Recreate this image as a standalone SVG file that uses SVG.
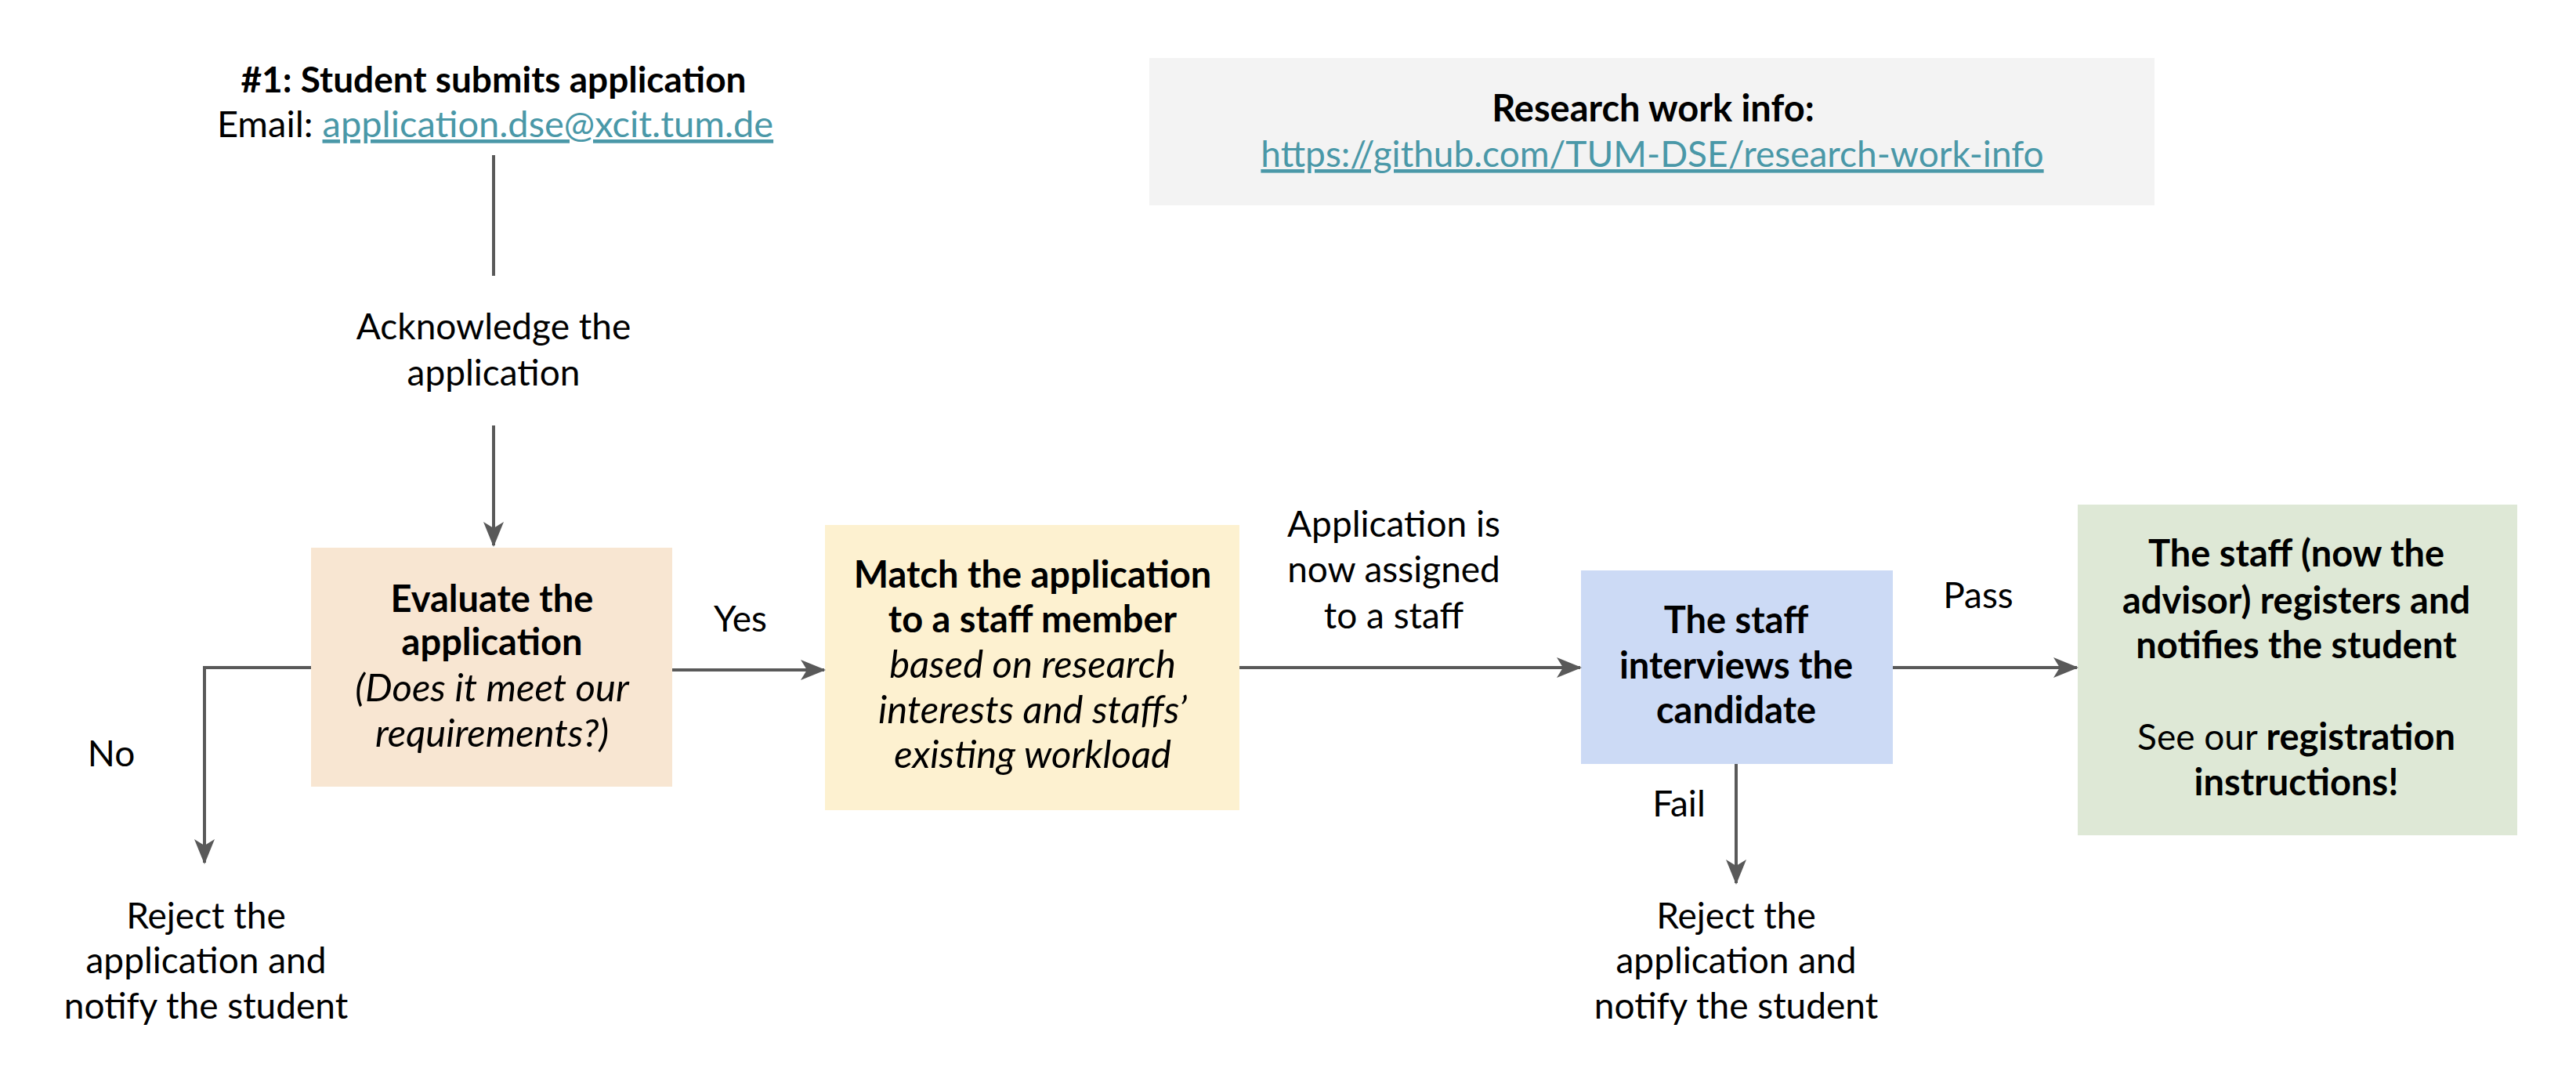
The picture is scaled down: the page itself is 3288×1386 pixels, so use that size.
<svg xmlns="http://www.w3.org/2000/svg" width="3288" height="1386" viewBox="0 0 3288 1386">
<defs>
<style>
text{font-family:Lato,"Liberation Sans",sans-serif;font-size:46px;fill:#000;text-anchor:middle}
.b{font-weight:bold;font-size:47px}
.i{font-style:italic;font-size:49px}
.link{fill:#4a98a8;text-decoration:underline}
.conn{stroke:#595959;stroke-width:4;fill:none}
</style>
<marker id="ah" viewBox="0 0 32 26" refX="30" refY="13" markerWidth="32" markerHeight="26" markerUnits="userSpaceOnUse" orient="auto">
<path d="M0,0 L32,13 L0,26 L8,13 Z" fill="#595959"/>
</marker>
</defs>
<rect width="3288" height="1386" fill="#fff"/>

<g id="start">
<text class="b" x="630" y="118" style="font-size:46px">#1: Student submits application</text>
<text x="632" y="175" style="font-size:47px">Email: <tspan class="link">application.dse@xcit.tum.de</tspan></text>
</g>

<g id="info">
<rect x="1467" y="74" width="1283" height="188" fill="#f3f3f3"/>
<text class="b" x="2110" y="155">Research work info:</text>
<text class="link" x="2109" y="213">https://github.com/TUM-DSE/research-work-info</text>
</g>

<g id="acknowledge">
<text x="630" y="433">Acknowledge the</text>
<text x="630" y="492">application</text>
</g>

<g id="evaluate">
<rect x="397" y="699" width="461" height="305" fill="#f8e6d2"/>
<text class="b" x="628" y="781">Evaluate the</text>
<text class="b" x="628" y="836">application</text>
<text class="i" x="628" y="895">(Does it meet our</text>
<text class="i" x="628" y="953">requirements?)</text>
</g>

<g id="reject1">
<text x="263" y="1185">Reject the</text>
<text x="263" y="1242">application and</text>
<text x="263" y="1300">notify the student</text>
</g>

<g id="match">
<rect x="1053" y="670" width="529" height="364" fill="#fdf1d0"/>
<text class="b" x="1318" y="750">Match the application</text>
<text class="b" x="1318" y="807">to a staff member</text>
<text class="i" x="1318" y="865">based on research</text>
<text class="i" x="1318" y="923">interests and staffs’</text>
<text class="i" x="1318" y="980">existing workload</text>
</g>

<g id="interview">
<rect x="2018" y="728" width="398" height="247" fill="#ccdaf5"/>
<text class="b" x="2216" y="808">The staff</text>
<text class="b" x="2216" y="866">interviews the</text>
<text class="b" x="2216" y="923">candidate</text>
</g>

<g id="register">
<rect x="2652" y="644" width="561" height="422" fill="#dee8d6"/>
<text class="b" x="2931" y="723">The staff (now the</text>
<text class="b" x="2931" y="783">advisor) registers and</text>
<text class="b" x="2931" y="840">notifies the student</text>
<text x="2931" y="957">See our <tspan class="b">registration</tspan></text>
<text class="b" x="2931" y="1015">instructions!</text>
</g>

<g id="reject2">
<text x="2216" y="1185">Reject the</text>
<text x="2216" y="1242">application and</text>
<text x="2216" y="1300">notify the student</text>
</g>

<g id="connectors">
<line class="conn" x1="630" y1="198" x2="630" y2="352"/>
<line class="conn" x1="630" y1="543" x2="630" y2="696" marker-end="url(#ah)"/>
<line class="conn" x1="858" y1="855" x2="1052" y2="855" marker-end="url(#ah)"/>
<polyline class="conn" points="397,852 261,852 261,1101" marker-end="url(#ah)"/>
<line class="conn" x1="1582" y1="852" x2="2017" y2="852" marker-end="url(#ah)"/>
<line class="conn" x1="2416" y1="852" x2="2651" y2="852" marker-end="url(#ah)"/>
<line class="conn" x1="2216" y1="975" x2="2216" y2="1127" marker-end="url(#ah)"/>
<text x="945" y="806">Yes</text>
<text x="142" y="978">No</text>
<text x="1779" y="685">Application is</text>
<text x="1779" y="743">now assigned</text>
<text x="1779" y="802">to a staff</text>
<text x="2525" y="776">Pass</text>
<text x="2143" y="1042">Fail</text>
</g>
</svg>
